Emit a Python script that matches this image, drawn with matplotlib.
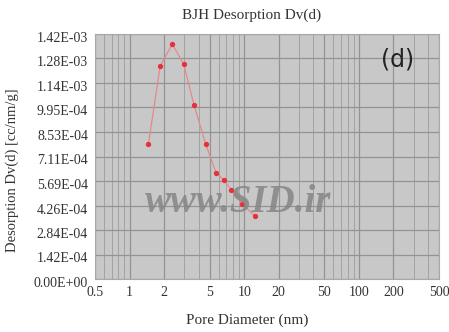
import matplotlib
matplotlib.use("Agg")
import matplotlib.pyplot as plt
import matplotlib.transforms as mtransforms
from matplotlib.ticker import FixedLocator, LogLocator, NullFormatter

# Values
pore_diameter = [1.46, 1.85, 2.36, 2.97, 3.65, 4.61, 5.68, 6.62, 7.72, 9.56, 12.5]
desorption_dv = [7.81e-4, 1.233e-3, 1.362e-3, 1.244e-3, 1.009e-3, 7.84e-4,
                 6.16e-4, 5.74e-4, 5.18e-4, 4.36e-4, 3.63e-4]
x_ticks = [0.5, 1, 2, 5, 10, 20, 50, 100, 200, 500]
x_tick_labels = ["0.5", "1", "2", "5", "10", "20", "50", "100", "200", "500"]
y_ticks = [i * 1.42e-4 for i in range(11)]
y_tick_labels = ["0.00E+00", "1.42E-04", "2.84E-04", "4.26E-04", "5.69E-04", "7.11E-04",
                 "8.53E-04", "9.95E-04", "1.14E-03", "1.28E-03", "1.42E-03"]

serif = "Liberation Serif"

fig = plt.figure(figsize=(4.49, 3.32), dpi=100)
ax = fig.add_axes([95 / 449, 1 - 279 / 332, 344 / 449, 245 / 332])
ax.set_facecolor("#c8c8c8")

ax.plot(pore_diameter, desorption_dv, color="#e48a8a", linewidth=0.9, zorder=3)
ax.plot(pore_diameter, desorption_dv, linestyle="none", marker="o", markersize=2.8,
        color="#e8303a", zorder=4)

ax.set_xscale("log")
ax.set_xlim(0.5, 500)
ax.set_ylim(0, 1.42e-3)
ax.xaxis.set_major_locator(FixedLocator(x_ticks))
ax.set_xticklabels(x_tick_labels, fontfamily=serif, fontsize=10, color="#333333")
ax.xaxis.set_minor_locator(LogLocator(base=10, subs=range(1, 10), numticks=20))
ax.xaxis.set_minor_formatter(NullFormatter())
ax.set_yticks(y_ticks)
ax.set_yticklabels(y_tick_labels, fontfamily=serif, fontsize=10, color="#333333")
ax.tick_params(which="both", length=0, pad=5)

# labels sit a little below their grid lines in the reference
shift = mtransforms.ScaledTranslation(0, -3 / 100, fig.dpi_scale_trans)
for lab in ax.get_yticklabels():
    lab.set_transform(lab.get_transform() + shift)

ax.grid(True, which="major", axis="both", color="#939393", linewidth=0.9)
ax.grid(True, which="minor", axis="x", color="#a2a2a2", linewidth=0.7)
ax.set_axisbelow(True)
for s in ax.spines.values():
    s.set_color("#a8a8a8")
    s.set_linewidth(0.8)

fig.text(252 / 449, 1 - 15 / 332, "BJH Desorption Dv(d)", ha="center", va="center",
         fontfamily=serif, fontsize=11, color="#333333")
fig.text(247 / 449, 1 - 320 / 332, "Pore Diameter (nm)", ha="center", va="center",
         fontfamily=serif, fontsize=11, color="#333333")
fig.text(12 / 449, 1 - 170 / 332, "Desorption Dv(d) [cc/nm/g]", ha="center", va="center",
         rotation=90, fontfamily=serif, fontsize=10.5, color="#333333")

fig.text(398 / 449, 1 - 60 / 332, "(d)", ha="center", va="center",
         fontfamily="DejaVu Sans", fontsize=17, color="#222222")
fig.text(238 / 449, 1 - 202 / 332, "www.SID.ir", ha="center", va="center",
         fontfamily=serif, fontsize=28, fontweight="bold", fontstyle="italic",
         color="#858585", alpha=0.85, zorder=10)

fig.savefig("out.png", dpi=100)
